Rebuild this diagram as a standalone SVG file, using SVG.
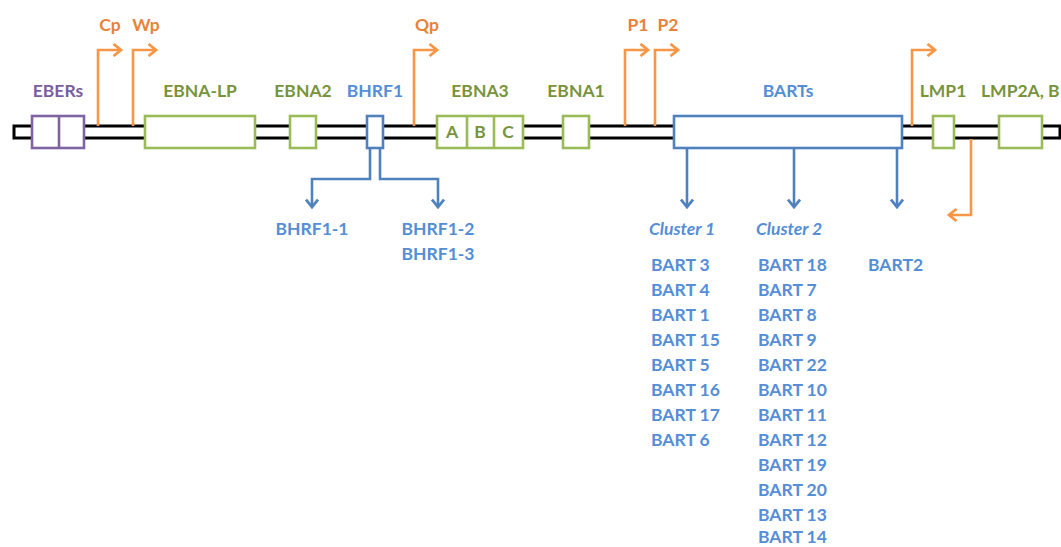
<svg xmlns="http://www.w3.org/2000/svg" width="1061" height="547" viewBox="0 0 1061 547">
<defs>
<marker id="ao" markerWidth="12" markerHeight="14" refX="9" refY="7" orient="auto" markerUnits="userSpaceOnUse" viewBox="0 0 12 14"><path d="M1.5,1 L9,7 L1.5,13" fill="none" stroke="#F79646" stroke-width="2.8"/></marker>
<marker id="ab" markerWidth="14" markerHeight="14" refX="9" refY="7" orient="auto" markerUnits="userSpaceOnUse" viewBox="0 0 14 14"><path d="M1.5,1 L9,7 L1.5,13" fill="none" stroke="#4F81BD" stroke-width="2.8"/></marker>
<style>
text{font-family:Lato,"Liberation Sans",sans-serif;font-weight:bold;font-size:17.5px}
.o{fill:#E8823A}.g{fill:#77933C}.b{fill:#558ED5}.p{fill:#7A5E9E}
.i{font-style:italic}
.gb{fill:#fff;stroke:#9BBB59;stroke-width:2.6}
.bb{fill:#fff;stroke:#4F81BD;stroke-width:2.6}
.pb{fill:#fff;stroke:#8064A2;stroke-width:2.6}
.oc{fill:none;stroke:#F79646;stroke-width:2.6}
.bc{fill:none;stroke:#4F81BD;stroke-width:2.6}
</style>
</defs>
<rect width="1061" height="547" fill="#fff"/>
<g id="genome"><rect x="14" y="126" width="1046" height="12" fill="#fff" stroke="#000" stroke-width="3"/></g>
<g id="connectors">
<path class="oc" d="M98,126 V50 H121" marker-end="url(#ao)"/>
<path class="oc" d="M133,126 V50 H156" marker-end="url(#ao)"/>
<path class="oc" d="M414,126 V50 H437" marker-end="url(#ao)"/>
<path class="oc" d="M625,126 V50 H648" marker-end="url(#ao)"/>
<path class="oc" d="M655,126 V50 H678" marker-end="url(#ao)"/>
<path class="oc" d="M912,126 V50 H935" marker-end="url(#ao)"/>
<path class="oc" d="M971,139 V215 H949" marker-end="url(#ao)"/>
<path class="bc" d="M370,149 V179 H312 V207" marker-end="url(#ab)"/>
<path class="bc" d="M380,149 V179 H438 V207" marker-end="url(#ab)"/>
<path class="bc" d="M687,148 V207" marker-end="url(#ab)"/>
<path class="bc" d="M794,148 V207" marker-end="url(#ab)"/>
<path class="bc" d="M897,148 V207" marker-end="url(#ab)"/>
</g>
<g id="EBERs"><rect class="pb" x="32" y="116" width="52" height="32"/><line x1="59" y1="116" x2="59" y2="148" stroke="#8064A2" stroke-width="2.6"/><text class="p" x="58" y="97" text-anchor="middle">EBERs</text></g>
<g id="EBNA-LP"><rect class="gb" x="145" y="116" width="110" height="32"/><text class="g" x="200" y="97" text-anchor="middle">EBNA-LP</text></g>
<g id="EBNA2"><rect class="gb" x="290" y="116" width="26" height="32"/><text class="g" x="303" y="97" text-anchor="middle">EBNA2</text></g>
<g id="BHRF1"><rect class="bb" x="367" y="116" width="16" height="32"/><text class="b" x="375" y="97" text-anchor="middle">BHRF1</text></g>
<g id="EBNA3"><rect class="gb" x="437" y="116" width="86" height="32"/><line x1="467" y1="116" x2="467" y2="148" stroke="#9BBB59" stroke-width="2.6"/><line x1="494" y1="116" x2="494" y2="148" stroke="#9BBB59" stroke-width="2.6"/><text class="g" x="480" y="97" text-anchor="middle">EBNA3</text><text class="g" x="452" y="138" text-anchor="middle">A</text><text class="g" x="480" y="138" text-anchor="middle">B</text><text class="g" x="508" y="138" text-anchor="middle">C</text></g>
<g id="EBNA1"><rect class="gb" x="563" y="116" width="26" height="32"/><text class="g" x="576" y="97" text-anchor="middle">EBNA1</text></g>
<g id="BARTs"><rect class="bb" x="674" y="116" width="228" height="32"/><text class="b" x="788" y="97" text-anchor="middle">BARTs</text></g>
<g id="LMP1"><rect class="gb" x="933" y="116" width="21" height="32"/><text class="g" x="943" y="97" text-anchor="middle">LMP1</text></g>
<g id="LMP2"><rect class="gb" x="999" y="116" width="43" height="32"/><text class="g" x="981" y="97">LMP2A, B</text></g>
<g id="promoters">
<text class="o" x="110" y="31" text-anchor="middle">Cp</text>
<text class="o" x="146" y="31" text-anchor="middle">Wp</text>
<text class="o" x="427" y="31" text-anchor="middle">Qp</text>
<text class="o" x="638" y="31" text-anchor="middle">P1</text>
<text class="o" x="668" y="31" text-anchor="middle">P2</text>
</g>
<g id="BHRF1-products">
<text class="b" x="312" y="235" text-anchor="middle">BHRF1-1</text>
<text class="b" x="438" y="235" text-anchor="middle">BHRF1-2</text>
<text class="b" x="438" y="260" text-anchor="middle">BHRF1-3</text>
</g>
<g id="cluster1">
<text class="b i" x="649" y="235">Cluster 1</text>
<text class="b" x="651" y="271">BART 3</text>
<text class="b" x="651" y="296">BART 4</text>
<text class="b" x="651" y="321">BART 1</text>
<text class="b" x="651" y="346">BART 15</text>
<text class="b" x="651" y="371">BART 5</text>
<text class="b" x="651" y="396">BART 16</text>
<text class="b" x="651" y="421">BART 17</text>
<text class="b" x="651" y="446">BART 6</text>
</g>
<g id="cluster2">
<text class="b i" x="756" y="235">Cluster 2</text>
<text class="b" x="758" y="271">BART 18</text>
<text class="b" x="758" y="296">BART 7</text>
<text class="b" x="758" y="321">BART 8</text>
<text class="b" x="758" y="346">BART 9</text>
<text class="b" x="758" y="371">BART 22</text>
<text class="b" x="758" y="396">BART 10</text>
<text class="b" x="758" y="421">BART 11</text>
<text class="b" x="758" y="446">BART 12</text>
<text class="b" x="758" y="471">BART 19</text>
<text class="b" x="758" y="496">BART 20</text>
<text class="b" x="758" y="521">BART 13</text>
<text class="b" x="758" y="543">BART 14</text>
</g>
<g id="BART2"><text class="b" x="868" y="271">BART2</text></g>
</svg>
